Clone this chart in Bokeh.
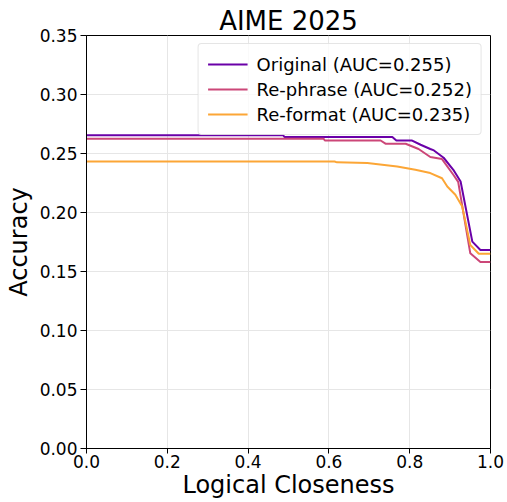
from bokeh.plotting import figure
from bokeh.models import FixedTicker, NumeralTickFormatter, Range1d, Legend, LegendItem
from bokeh.embed import file_html
from bokeh.resources import INLINE

# Data
orig_x = [0.0, 0.487, 0.49, 0.757, 0.767, 0.806, 0.827, 0.851, 0.86, 0.884, 0.908, 0.926, 0.955, 0.975, 1.0]
orig_y = [0.2654, 0.2654, 0.264, 0.264, 0.261, 0.261, 0.2574, 0.2538, 0.2526, 0.2464, 0.2362, 0.2263, 0.1753, 0.1682, 0.1682]

reph_x = [0.0, 0.587, 0.59, 0.728, 0.74, 0.79, 0.822, 0.851, 0.88, 0.908, 0.92, 0.95, 0.975, 1.0]
reph_y = [0.2625, 0.2625, 0.261, 0.261, 0.2583, 0.2583, 0.2538, 0.247, 0.2453, 0.232, 0.226, 0.1654, 0.158, 0.158]

refm_x = [0.0, 0.614, 0.62, 0.695, 0.769, 0.814, 0.851, 0.88, 0.893, 0.913, 0.93, 0.95, 0.971, 1.0]
refm_y = [0.2432, 0.2432, 0.2425, 0.2419, 0.239, 0.2362, 0.2334, 0.229, 0.222, 0.215, 0.205, 0.1725, 0.165, 0.165]

labels = ["Original (AUC=0.255)", "Re-phrase (AUC=0.252)", "Re-format (AUC=0.235)"]
colors = ["#6a00a8", "#cc4778", "#fca636"]

x_ticks = [0.0, 0.2, 0.4, 0.6, 0.8, 1.0]
y_ticks = [0.0, 0.05, 0.10, 0.15, 0.20, 0.25, 0.30, 0.35]

FONT = "DejaVu Sans"

p = figure(width=507, height=502, output_backend="svg", toolbar_location=None,
           x_range=Range1d(0, 1), y_range=Range1d(0, 0.35),
           title="AIME 2025",
           min_border_left=86, min_border_right=17, min_border_top=35, min_border_bottom=54)

p.title.align = "center"
p.title.text_font = FONT
p.title.text_font_size = "26px"
p.title.text_font_style = "normal"
p.title.text_color = "black"
p.title.standoff = 0
p.title.offset = 0

renderers = []
for xs, ys, c in zip([orig_x, reph_x, refm_x], [orig_y, reph_y, refm_y], colors):
    r = p.line(xs, ys, line_color=c, line_width=2)
    renderers.append(r)

legend = Legend(items=[LegendItem(label=l, renderers=[r]) for l, r in zip(labels, renderers)],
                location="top_right")
legend.label_text_font = FONT
legend.label_text_font_size = "18px"
legend.label_text_color = "black"
legend.label_height = 22
legend.glyph_height = 22
legend.glyph_width = 40
legend.label_standoff = 9
legend.spacing = 3
legend.padding = 9
legend.margin = 8
legend.border_line_color = "#cccccc"
legend.border_line_width = 1
legend.border_radius = 4
legend.background_fill_alpha = 0.8
p.add_layout(legend)

p.xaxis.ticker = FixedTicker(ticks=x_ticks)
p.yaxis.ticker = FixedTicker(ticks=y_ticks)
p.xaxis.formatter = NumeralTickFormatter(format="0.0")
p.yaxis.formatter = NumeralTickFormatter(format="0.00")

p.xaxis.axis_label = "Logical Closeness"
p.yaxis.axis_label = "Accuracy"
for ax in (p.xaxis[0], p.yaxis[0]):
    ax.axis_label_text_font = FONT
    ax.axis_label_text_font_size = "24px"
    ax.axis_label_text_font_style = "normal"
    ax.axis_label_text_color = "black"
    ax.major_label_text_font = FONT
    ax.major_label_text_font_size = "17px"
    ax.major_label_text_color = "black"
    ax.minor_tick_line_color = None
    ax.major_tick_out = 6
    ax.major_tick_in = 0
    ax.major_tick_line_color = "black"
    ax.axis_line_color = "black"
    ax.major_label_standoff = 3
p.xaxis.major_tick_out = 5
p.xaxis.major_label_standoff = 1
p.xaxis.axis_label_standoff = 0
p.yaxis.axis_label_standoff = 4

p.outline_line_color = "black"
p.outline_line_width = 1
p.outline_line_alpha = 1
p.grid.grid_line_color = "#e6e6e6"
p.grid.grid_line_width = 1
p.background_fill_color = "white"
p.border_fill_color = "white"

open("out.html", "w").write(file_html(p, INLINE))
